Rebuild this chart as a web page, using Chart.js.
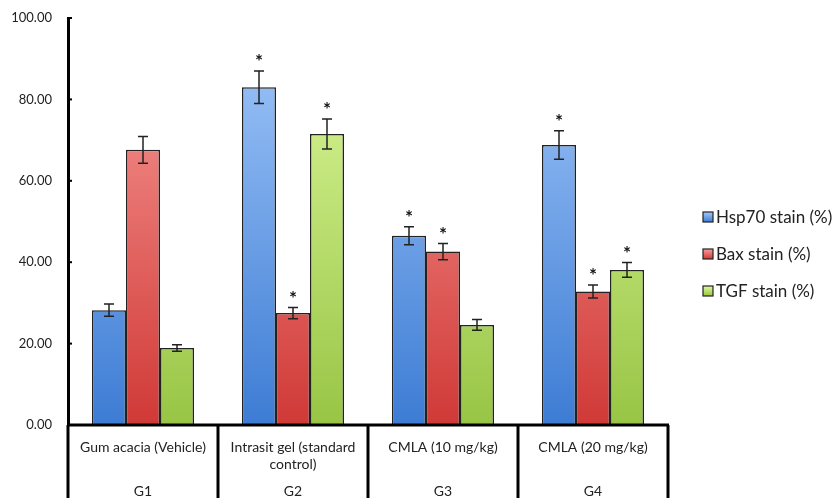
<!DOCTYPE html>
<html>
<head>
<meta charset="utf-8">
<script src="https://cdn.jsdelivr.net/npm/chart.js@4"></script>
<style>
  body { margin: 0; background: #fff; }
  #wrap { width: 835px; height: 498px; }
</style>
</head>
<body>
<div id="wrap"><canvas id="chart" width="835" height="498"></canvas></div>
<script>
const groups = ["G1", "G2", "G3", "G4"];
const groupNames = [["Gum acacia (Vehicle)"], ["Intrasit gel (standard", "control)"], ["CMLA (10 mg/kg)"], ["CMLA (20 mg/kg)"]];
const seriesNames = ["Hsp70 stain (%)", "Bax stain (%)", "TGF stain (%)"];
const hsp70 = [28.2, 83.0, 46.5, 68.8];
const hsp70Err = [1.5, 4.0, 2.2, 3.5];
const bax = [67.6, 27.5, 42.6, 32.8];
const baxErr = [3.3, 1.4, 2.0, 1.6];
const tgf = [18.9, 71.5, 24.6, 38.1];
const tgfErr = [0.8, 3.7, 1.3, 1.8];
const hsp70Star = [false, true, true, true];
const baxStar = [false, true, true, true];
const tgfStar = [false, true, false, true];
const yTicks = [0, 20, 40, 60, 80, 100];

const FONT = "Lato, 'Open Sans', sans-serif";

// light (top) -> dark (bottom) colours per series
const shades = [
  ["#a3c8fa", "#3d7cd4"],
  ["#f99e9b", "#d03936"],
  ["#defa9e", "#98c545"]
];

function grad(ctx, i) {
  const area = ctx.chart.chartArea;
  if (!area) return shades[i][1];
  const g = ctx.chart.ctx.createLinearGradient(0, area.top, 0, area.bottom);
  g.addColorStop(0, shades[i][0]);
  g.addColorStop(1, shades[i][1]);
  return g;
}

const errs = [hsp70Err, baxErr, tgfErr];
const stars = [hsp70Star, baxStar, tgfStar];

const extras = {
  id: "extras",
  afterDatasetsDraw(chart) {
    const c = chart.ctx;
    const y = chart.scales.y;
    const area = chart.chartArea;
    c.save();
    // error bars and significance stars
    chart.data.datasets.forEach((ds, di) => {
      const meta = chart.getDatasetMeta(di);
      meta.data.forEach((bar, i) => {
        const v = ds.data[i];
        const e = errs[di][i];
        const top = y.getPixelForValue(v + e);
        const bot = y.getPixelForValue(v - e);
        c.strokeStyle = "#222";
        c.lineWidth = 1.5;
        c.beginPath();
        c.moveTo(bar.x, top); c.lineTo(bar.x, bot);
        c.moveTo(bar.x - 5, top); c.lineTo(bar.x + 5, top);
        c.moveTo(bar.x - 5, bot); c.lineTo(bar.x + 5, bot);
        c.stroke();
        if (stars[di][i]) {
          c.fillStyle = "#111";
          c.font = "bold 19px " + FONT;
          c.textAlign = "center";
          c.textBaseline = "middle";
          c.fillText("*", bar.x, top - 9);
        }
      });
    });
    // small inner ticks on y axis
    c.strokeStyle = "#000";
    c.lineWidth = 2;
    yTicks.forEach(t => {
      const py = y.getPixelForValue(t);
      c.beginPath(); c.moveTo(area.left, py); c.lineTo(area.left + 4, py); c.stroke();
    });
    // table below the axis
    const n = groups.length;
    const w = (area.right - area.left) / n;
    c.lineWidth = 3;
    c.beginPath();
    c.moveTo(area.left - 1, area.bottom); c.lineTo(area.right + 1, area.bottom);
    for (let i = 0; i <= n; i++) {
      const px = Math.round(area.left + i * w);
      c.moveTo(px, area.bottom); c.lineTo(px, chart.height);
    }
    c.stroke();
    c.fillStyle = "#222";
    c.font = "14px " + FONT;
    c.textAlign = "center";
    c.textBaseline = "middle";
    groups.forEach((g, i) => {
      const cx = area.left + (i + 0.5) * w;
      groupNames[i].forEach((line, k) => c.fillText(line, cx, area.bottom + 22 + k * 17));
      c.fillText(g, cx, area.bottom + 66);
    });
    // legend
    c.font = "17px " + FONT;
    c.textAlign = "left";
    seriesNames.forEach((name, i) => {
      const cy = 217 + i * 37;
      const g = c.createLinearGradient(0, cy - 5, 0, cy + 5);
      g.addColorStop(0, shades[i][0]);
      g.addColorStop(1, shades[i][1]);
      c.fillStyle = g;
      c.fillRect(703, cy - 5, 10, 10);
      c.strokeStyle = "#222";
      c.lineWidth = 1.2;
      c.strokeRect(703, cy - 5, 10, 10);
      c.fillStyle = "#222";
      c.fillText(name, 716, cy + 1);
    });
    c.restore();
  }
};

const datasets = [hsp70, bax, tgf].map((d, i) => ({
  label: seriesNames[i],
  data: d,
  backgroundColor: ctx => grad(ctx, i),
  borderColor: "#222",
  borderWidth: 1.5,
  borderSkipped: "bottom",
  categoryPercentage: 0.68,
  barPercentage: 1.0
}));

new Chart(document.getElementById("chart"), {
  type: "bar",
  data: { labels: groups, datasets: datasets },
  options: {
    responsive: false,
    animation: false,
    layout: { padding: { top: 18, bottom: 73, right: 167, left: 0 } },
    plugins: { legend: { display: false }, tooltip: { enabled: false } },
    scales: {
      x: { display: false },
      y: {
        min: 0, max: 100,
        afterFit: s => { s.width = 68; s.paddingTop = 0; s.paddingBottom = 0; },
        ticks: {
          stepSize: 20,
          padding: 16,
          color: "#222",
          font: { family: FONT, size: 13 },
          callback: v => v.toFixed(2)
        },
        grid: { display: false, drawTicks: false },
        border: { display: true, color: "#000", width: 3 }
      }
    }
  },
  plugins: [extras]
});
</script>
</body>
</html>
